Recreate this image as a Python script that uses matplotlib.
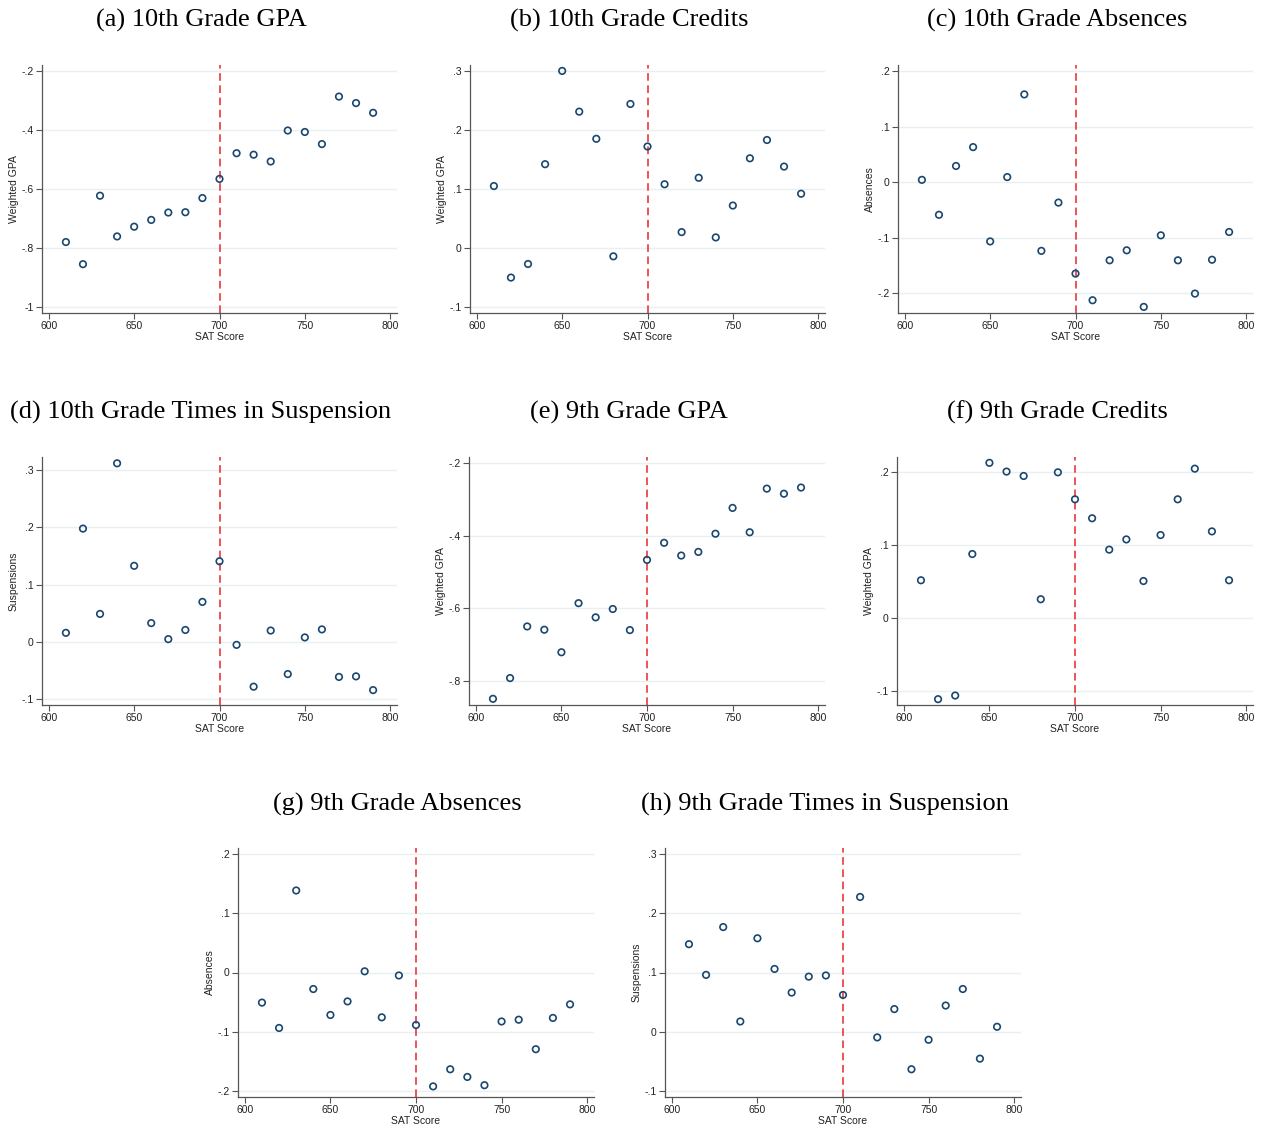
import numpy as np
import matplotlib
matplotlib.use('Agg')
import matplotlib.pyplot as plt
from matplotlib.ticker import FuncFormatter

# SAT score bins (same for every panel)
sat = [610, 620, 630, 640, 650, 660, 670, 680, 690, 700,
       710, 720, 730, 740, 750, 760, 770, 780, 790]

# (a) 10th grade GPA
gpa_10 = [-0.780, -0.855, -0.623, -0.761, -0.728, -0.705, -0.680, -0.679, -0.631, -0.566,
          -0.479, -0.484, -0.507, -0.402, -0.407, -0.448, -0.287, -0.309, -0.342]
# (b) 10th grade credits
credits_10 = [0.105, -0.050, -0.027, 0.142, 0.300, 0.231, 0.185, -0.014, 0.244, 0.172,
              0.108, 0.027, 0.119, 0.018, 0.072, 0.152, 0.183, 0.138, 0.092]
# (c) 10th grade absences
absences_10 = [0.004, -0.059, 0.029, 0.063, -0.107, 0.009, 0.158, -0.124, -0.037, -0.165,
               -0.213, -0.141, -0.123, -0.225, -0.096, -0.141, -0.201, -0.140, -0.090]
# (d) 10th grade times in suspension
susp_10 = [0.016, 0.198, 0.049, 0.312, 0.133, 0.033, 0.005, 0.021, 0.070, 0.141,
           -0.005, -0.078, 0.020, -0.056, 0.008, 0.022, -0.061, -0.060, -0.084]
# (e) 9th grade GPA
gpa_9 = [-0.849, -0.792, -0.650, -0.659, -0.721, -0.586, -0.625, -0.602, -0.660, -0.467,
         -0.420, -0.455, -0.445, -0.395, -0.324, -0.391, -0.271, -0.285, -0.268]
# (f) 9th grade credits
credits_9 = [0.052, -0.111, -0.106, 0.088, 0.213, 0.201, 0.195, 0.026, 0.200, 0.163,
             0.137, 0.094, 0.108, 0.051, 0.114, 0.163, 0.205, 0.119, 0.052]
# (g) 9th grade absences
absences_9 = [-0.051, -0.094, 0.139, -0.028, -0.072, -0.049, 0.002, -0.076, -0.005, -0.089,
              -0.193, -0.164, -0.177, -0.191, -0.083, -0.080, -0.130, -0.077, -0.054]
# (h) 9th grade times in suspension
susp_9 = [0.148, 0.096, 0.177, 0.017, 0.158, 0.106, 0.066, 0.093, 0.095, 0.062,
          0.228, -0.010, 0.038, -0.064, -0.014, 0.044, 0.072, -0.046, 0.008]

titles = ['(a) 10th Grade GPA', '(b) 10th Grade Credits', '(c) 10th Grade Absences',
          '(d) 10th Grade Times in Suspension', '(e) 9th Grade GPA', '(f) 9th Grade Credits',
          '(g) 9th Grade Absences', '(h) 9th Grade Times in Suspension']
ylabels = ['Weighted GPA', 'Weighted GPA', 'Absences', 'Suspensions',
           'Weighted GPA', 'Weighted GPA', 'Absences', 'Suspensions']
series = [gpa_10, credits_10, absences_10, susp_10, gpa_9, credits_9, absences_9, susp_9]
yticks = [[-1, -0.8, -0.6, -0.4, -0.2], [-0.1, 0, 0.1, 0.2, 0.3], [-0.2, -0.1, 0, 0.1, 0.2],
          [-0.1, 0, 0.1, 0.2, 0.3], [-0.8, -0.6, -0.4, -0.2], [-0.1, 0, 0.1, 0.2],
          [-0.2, -0.1, 0, 0.1, 0.2], [-0.1, 0, 0.1, 0.2, 0.3]]
xticks = [600, 650, 700, 750, 800]
cutoff = 700

# layout in pixels: (left, top, right, bottom) of each plot area, title centre (x, y)
W, H = 1265, 1129
boxes = [(42, 65, 397, 313), (470, 65, 825, 313), (898, 65, 1253, 313),
         (42, 457, 397, 705), (469, 457, 825, 705), (897, 457, 1253, 705),
         (238, 848, 594, 1097), (665, 848, 1021, 1097)]
title_pos = [(201, 20), (629, 20), (1057, 20), (201, 412), (629, 412), (1057, 412),
             (397, 804), (825, 804)]
ylims = [(-1.0205, -0.180), (-0.110, 0.310), (-0.236, 0.211), (-0.110, 0.323),
         (-0.866, -0.184), (-0.119, 0.221), (-0.211, 0.211), (-0.111, 0.311)]

NAVY = '#1a476f'
GRID = '#eaf0f1'
AXC = '#555555'


def stata_fmt(v, pos):
    if abs(v) < 1e-9:
        return '0'
    s = ('%g' % round(v, 3))
    return s.replace('0.', '.')


fig = plt.figure(figsize=(W / 100, H / 100), dpi=100)
fig.patch.set_facecolor('white')

for i in range(8):
    l, t, r, b = boxes[i]
    ax = fig.add_axes([l / W, 1 - b / H, (r - l) / W, (b - t) / H])
    ax.scatter(sat, series[i], s=22, facecolors='none', edgecolors=NAVY,
               linewidths=1.2, zorder=3)
    ax.axvline(cutoff, color='#e8262a', linestyle=(0, (5, 3)), linewidth=1.1, zorder=2)

    ax.set_xlim(596, 804)
    ax.set_ylim(*ylims[i])
    ax.set_xticks(xticks)
    ax.set_yticks(yticks[i])
    ax.yaxis.set_major_formatter(FuncFormatter(stata_fmt))
    ax.grid(axis='y', color=GRID, linewidth=1.0, zorder=0)
    ax.set_axisbelow(True)

    for sp in ['top', 'right']:
        ax.spines[sp].set_visible(False)
    for sp in ['left', 'bottom']:
        ax.spines[sp].set_color(AXC)
        ax.spines[sp].set_linewidth(0.9)
    ax.tick_params(axis='both', length=4, width=0.8, color=AXC, labelsize=7.5,
                   labelcolor='#222222', pad=2)
    for lab in ax.get_xticklabels() + ax.get_yticklabels():
        lab.set_family('Liberation Sans')

    ax.set_xlabel('SAT Score', fontsize=7.5, family='Liberation Sans',
                  color='#222222', labelpad=0.5)
    ax.set_ylabel(ylabels[i], fontsize=7.5, family='Liberation Sans',
                  color='#222222', labelpad=2)

    tx, ty = title_pos[i]
    fig.text(tx / W, 1 - ty / H, titles[i], ha='center', va='center',
             fontsize=19, family='Liberation Serif', color='black')

fig.savefig('out.png', dpi=100, facecolor='white')
